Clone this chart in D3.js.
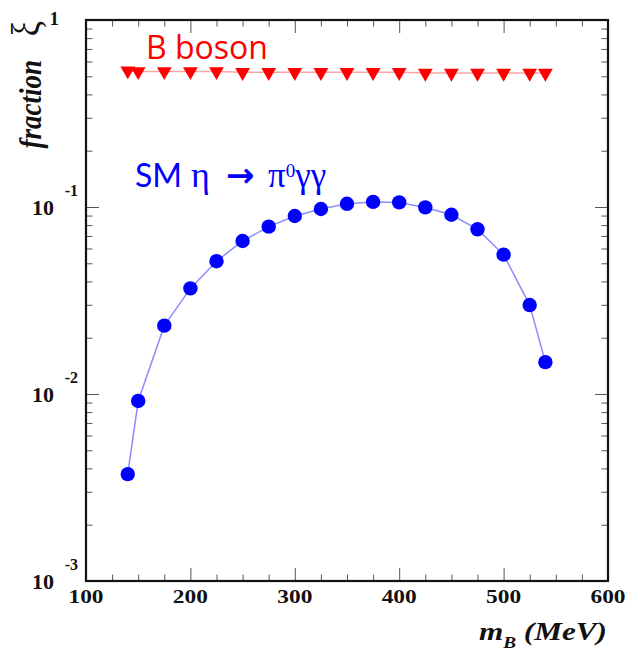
<!DOCTYPE html>
<html>
<head>
<meta charset="utf-8">
<script src="https://cdn.jsdelivr.net/npm/d3@7"></script>
<style>
  body { margin: 0; background: #fff; }
  .tick line { stroke: #555; stroke-width: 1; }
  .lab { font-family: "Liberation Serif", "Times New Roman", serif; font-weight: bold; fill: #111; }
</style>
</head>
<body>
<div id="chart"></div>
<script>
// data
var massB = [140, 150, 175, 200, 225, 250, 275, 300, 325, 350, 375, 400, 425, 450, 475, 500, 525, 540];
var bBoson = [0.535, 0.53, 0.53, 0.53, 0.53, 0.525, 0.525, 0.525, 0.525, 0.525, 0.525, 0.525, 0.52, 0.52, 0.52, 0.52, 0.52, 0.52];
var smEta = [0.00373, 0.00918, 0.0232, 0.0367, 0.0513, 0.0658, 0.0785, 0.0895, 0.0976, 0.104, 0.1065, 0.1058, 0.0995, 0.0909, 0.076, 0.0556, 0.0299, 0.0148];

var xTicks = [100, 200, 300, 400, 500, 600];
var xMinor = [125, 150, 175, 225, 250, 275, 325, 350, 375, 425, 450, 475, 525, 550, 575];
var yDecades = [0.001, 0.01, 0.1, 1];
var yBase = ["10", "10", "10", "1"];
var yExp = ["-3", "-2", "-1", ""];

var W = 629, H = 651;
var pLeft = 86, pRight = 608, pTop = 20, pBottom = 581;

var x = d3.scaleLinear().domain([100, 600]).range([pLeft, pRight]);
var y = d3.scaleLog().domain([0.001, 1]).range([pBottom, pTop]);

// minor log ticks 2..9 per decade
var yMinor = [];
yDecades.slice(0, 3).forEach(function(d) {
  for (var k = 2; k <= 9; k++) yMinor.push(d * k);
});

var svg = d3.select("#chart").append("svg")
    .attr("width", W)
    .attr("height", H);

function addAxis(axis, tr, vals, size) {
  var g = svg.append("g")
    .attr("transform", tr)
    .call(axis.tickValues(vals).tickSize(size).tickFormat(""));
  g.select(".domain").remove();
  return g;
}

// ticks pointing inwards, on all four sides
addAxis(d3.axisBottom(x), "translate(0," + pBottom + ")", xTicks, -13);
addAxis(d3.axisBottom(x), "translate(0," + pBottom + ")", xMinor, -6.5);
addAxis(d3.axisTop(x), "translate(0," + pTop + ")", xTicks, -13);
addAxis(d3.axisTop(x), "translate(0," + pTop + ")", xMinor, -6.5);
addAxis(d3.axisLeft(y), "translate(" + pLeft + ",0)", yDecades, -13);
addAxis(d3.axisLeft(y), "translate(" + pLeft + ",0)", yMinor, -6.5);
addAxis(d3.axisRight(y), "translate(" + pRight + ",0)", yDecades, -13);
addAxis(d3.axisRight(y), "translate(" + pRight + ",0)", yMinor, -6.5);

// frame
svg.append("rect")
  .attr("x", pLeft).attr("y", pTop)
  .attr("width", pRight - pLeft).attr("height", pBottom - pTop)
  .attr("fill", "none")
  .attr("stroke", "#111")
  .attr("stroke-width", 2.2);

// x tick labels (the original is stretched sideways a bit)
svg.selectAll(".xlab").data(xTicks).enter()
  .append("text")
  .attr("class", "lab")
  .attr("transform", function(d) { return "translate(" + x(d) + ",603) scale(1.3,1)"; })
  .attr("text-anchor", "middle")
  .attr("font-size", "18px")
  .text(function(d) { return d; });

// y tick labels (10 with exponent)
yDecades.forEach(function(d, i) {
  var yy = y(d);
  if (yExp[i] === "") {
    svg.append("text").attr("class", "lab")
      .attr("x", 59).attr("y", yy + 5)
      .attr("text-anchor", "end")
      .attr("font-size", "19px")
      .text(yBase[i]);
    return;
  }
  svg.append("text").attr("class", "lab")
    .attr("x", 54).attr("y", yy + 8)
    .attr("text-anchor", "end")
    .attr("font-size", "22px")
    .text(yBase[i]);
  svg.append("text").attr("class", "lab")
    .attr("x", 78).attr("y", yy - 11)
    .attr("text-anchor", "end")
    .attr("font-size", "16px")
    .text(yExp[i]);
});

// axis titles
svg.append("text").attr("class", "lab")
  .attr("transform", "translate(41,60) scale(1.2,1) rotate(-90)")
  .attr("text-anchor", "end")
  .attr("font-size", "27px")
  .attr("font-style", "italic")
  .text("fraction");

svg.append("text").attr("class", "lab")
  .attr("transform", "translate(39,21) scale(1.15,1) rotate(-90)")
  .attr("text-anchor", "end")
  .style("font-weight", "normal")
  .attr("font-size", "34px")
  .text("\u03BE");

var xt = svg.append("text").attr("class", "lab")
  .attr("transform", "translate(607,640) scale(1.2,1)")
  .attr("text-anchor", "end")
  .attr("font-size", "26px")
  .attr("font-style", "italic");
xt.append("tspan").text("m");
xt.append("tspan").attr("font-size", "16px").attr("dy", 8).text("B");
xt.append("tspan").attr("dy", -8).text(" (MeV)");

// series lines
var line = d3.line()
  .x(function(d) { return x(d[0]); })
  .y(function(d) { return y(d[1]); });

var redPts = massB.map(function(m, i) { return [m, bBoson[i]]; });
var bluePts = massB.map(function(m, i) { return [m, smEta[i]]; });

svg.append("path")
  .datum(redPts)
  .attr("d", line)
  .attr("fill", "none")
  .attr("stroke", "#ffa5a5")
  .attr("stroke-width", 1.5);

svg.append("path")
  .datum(bluePts)
  .attr("d", line)
  .attr("fill", "none")
  .attr("stroke", "#8c8cff")
  .attr("stroke-width", 1.5);

// markers
var tri = d3.symbol().type(d3.symbolTriangle).size(95);
svg.selectAll(".tri").data(redPts).enter()
  .append("path")
  .attr("class", "tri")
  .attr("d", tri)
  .attr("transform", function(d) { return "translate(" + x(d[0]) + "," + y(d[1]) + ") rotate(180)"; })
  .attr("fill", "#ff0000");

svg.selectAll(".dot").data(bluePts).enter()
  .append("circle")
  .attr("class", "dot")
  .attr("cx", function(d) { return x(d[0]); })
  .attr("cy", function(d) { return y(d[1]); })
  .attr("r", 7.2)
  .attr("fill", "#0000ff");

// legend texts
svg.append("text")
  .attr("x", 146).attr("y", 59)
  .attr("font-family", "'Open Sans', sans-serif")
  .attr("font-size", "32px")
  .attr("fill", "#ff0000")
  .text("B boson");

var sm = svg.append("text")
  .attr("y", 187)
  .attr("fill", "#0000ff")
  .attr("font-size", "32px");
sm.append("tspan").attr("x", 135).attr("font-family", "Lato, sans-serif").text("SM");
sm.append("tspan").attr("x", 191).attr("font-family", "'Liberation Serif', serif").attr("font-size", "36px").text("\u03B7");
sm.append("tspan").attr("x", 226).attr("font-family", "'DejaVu Sans', sans-serif").attr("font-weight", "bold").attr("font-size", "34px").text("\u2192");
sm.append("tspan").attr("x", 268).attr("font-family", "'Liberation Serif', serif").attr("font-size", "35px").text("\u03C0");
sm.append("tspan").attr("font-family", "'Liberation Serif', serif").attr("font-size", "19px").attr("dy", -10).text("0");
sm.append("tspan").attr("font-family", "'Liberation Serif', serif").attr("font-size", "35px").attr("dy", 10).text("\u03B3\u03B3");
</script>
</body>
</html>
